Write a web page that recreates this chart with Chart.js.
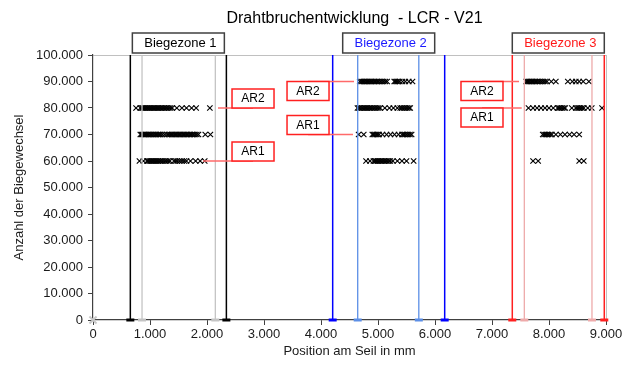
<!DOCTYPE html>
<html>
<head>
<meta charset="utf-8">
<script src="https://cdn.jsdelivr.net/npm/chart.js@4.4.1/dist/chart.umd.min.js"></script>
<style>
body{margin:0;background:#fff;}
</style>
</head>
<body>
<canvas id="chart" width="632" height="365"></canvas>
<script>

const chartTitle = "Drahtbruchentwicklung  - LCR - V21";
const xTitle = "Position am Seil in mm";
const yTitle = "Anzahl der Biegewechsel";

// Biegezonen: outer and inner limits (mm)
const zoneNames = ["Biegezone 1", "Biegezone 2", "Biegezone 3"];
const zoneTextColors = ["#000000", "#1a1aff", "#ff1a1a"];
const zoneOuter = [[655, 2340], [4205, 6170], [7356, 8970]];
const zoneInner = [[860, 2146], [4644, 5716], [7567, 8754]];
const outerColors = ["#000000", "#0000ff", "#ff2020"];
const innerColors = ["#c4c4c4", "#5b8ee6", "#eeaaaa"];

// break positions per load level (Biegewechsel)
const levels = [60000, 70000, 80000, 90000];

const breaks60 = [
    815, 885, 945, 965, 990, 1010, 1030, 1055, 1075, 1100, 1120, 1145, 1170, 1195, 1225, 1260, 1290, 1320, 1350,
    1420, 1450, 1480, 1520, 1560, 1600, 1640, 1710, 1800, 1880, 1960,
    4790, 4860, 4920, 4945, 4965, 4990, 5010, 5035, 5060, 5085, 5110, 5135, 5160, 5190, 5215, 5260, 5340, 5420, 5500, 5625,
    7720, 7810, 8530, 8610
];
const breaks70 = [
    830, 850, 870, 895, 915, 935, 960, 980, 1005, 1025, 1050, 1070, 1095, 1115, 1140, 1165, 1190, 1220, 1260, 1300,
    1330, 1355, 1380, 1400, 1425, 1450, 1470, 1495, 1520, 1540, 1565, 1590, 1610, 1635, 1660, 1685, 1710, 1735, 1760,
    1790, 1820, 1850, 1970, 2060,
    4660, 4750, 4900, 4920, 4945, 4970, 4995, 5020, 5080, 5150, 5220, 5290, 5360, 5420, 5445, 5470, 5500, 5530, 5560, 5590,
    7890, 7915, 7940, 7965, 7990, 8020, 8050, 8120, 8200, 8280, 8360, 8440, 8530
];
const breaks80 = [
    755, 830, 855, 875, 900, 920, 945, 965, 990, 1010, 1035, 1060, 1080, 1105, 1130, 1150, 1175, 1200, 1225, 1250,
    1275, 1300, 1330, 1360, 1390, 1470, 1560, 1640, 1730, 1810, 2050,
    4640, 4665, 4690, 4720, 4745, 4770, 4790, 4815, 4840, 4865, 4890, 4920, 4950, 4980, 5010, 5040,
    5120, 5200, 5270, 5340, 5390, 5420, 5450, 5480, 5510, 5540, 5565,
    7640, 7720, 7790, 7860, 7930, 8000, 8075, 8150, 8175, 8200, 8230, 8260, 8285, 8400, 8470, 8500, 8525, 8550,
    8580, 8610, 8680, 8750, 8930
];
const breaks90 = [
    4680, 4705, 4725, 4750, 4770, 4795, 4815, 4840, 4860, 4885, 4910, 4935, 4960, 4985, 5010, 5040, 5070, 5100,
    5130, 5160, 5285, 5305, 5330, 5350, 5380, 5430, 5480, 5540, 5605,
    7600, 7620, 7645, 7665, 7690, 7710, 7735, 7760, 7785, 7810, 7840, 7870, 7900, 7930, 7965, 8040, 8120,
    8330, 8410, 8470, 8530, 8600, 8700
];
const breakRows = [breaks60, breaks70, breaks80, breaks90];

// AR callouts: box left (mm), level, which box edge sits on the level, leader start (mm)
const arText = ["AR2", "AR1", "AR2", "AR1", "AR2", "AR1"];
const arBoxX = [2439, 2439, 3404, 3404, 6456, 6456];
const arLevel = [80000, 60000, 90000, 70000, 90000, 80000];
const arEdge = ["bottom", "bottom", "top", "bottom", "top", "top"];
const arFrom = [2193, 1930, 4579, 4561, 7474, 7521];

const xTicks = [0, 1000, 2000, 3000, 4000, 5000, 6000, 7000, 8000, 9000];
const yTicks = [0, 10000, 20000, 30000, 40000, 50000, 60000, 70000, 80000, 90000, 100000];

const font = "'Liberation Sans', Arial, sans-serif";

function dots(v){
    return String(v).replace(/\B(?=(\d{3})+(?!\d))/g, ".");
}

let datasets = [];

// vertical zone lines with a small marker at the bottom
function zoneLine(pos, color, width){
    datasets.push({
        type: "line",
        data: [{x: pos, y: 0}, {x: pos, y: 100000}],
        borderColor: color,
        borderWidth: width,
        pointStyle: "line",
        pointRadius: [4, 0],
        pointBorderWidth: 3,
        pointBorderColor: color,
        clip: false
    });
}

zoneOuter.forEach((z, i) => {
    zoneLine(z[0], outerColors[i], 1.5);
    zoneLine(z[1], outerColors[i], 1.5);
});
zoneInner.forEach((z, i) => {
    zoneLine(z[0], innerColors[i], 1.3);
    zoneLine(z[1], innerColors[i], 1.3);
});

breakRows.forEach((row, i) => {
    datasets.push({
        type: "scatter",
        data: row.map(v => ({x: v, y: levels[i]})),
        pointStyle: "crossRot",
        pointRadius: 3.8,
        pointBorderWidth: 1.1,
        borderColor: "#000",
        backgroundColor: "#000"
    });
});

// grey origin marker
datasets.push({
    type: "scatter",
    data: [{x: 0, y: 0}],
    pointStyle: "crossRot",
    pointRadius: 5,
    pointBorderWidth: 2,
    borderColor: "#c8c8c8",
    clip: false
});

const overlay = {
    id: "overlay",
    afterDraw(chart){
        const ctx = chart.ctx;
        const sx = chart.scales.x;
        const sy = chart.scales.y;
        const area = chart.chartArea;

        ctx.save();

        ctx.fillStyle = "#000";
        ctx.font = "16px " + font;
        ctx.textAlign = "center";
        ctx.textBaseline = "middle";
        ctx.fillText(chartTitle, (area.left + area.right) / 2 + 5, 19);

        // zone headers
        ctx.font = "13px " + font;
        zoneNames.forEach((name, i) => {
            let cx = sx.getPixelForValue((zoneOuter[i][0] + zoneOuter[i][1]) / 2);
            let w = 92;
            ctx.fillStyle = "#fff";
            ctx.fillRect(cx - w / 2, area.top - 22, w, 20);
            ctx.strokeStyle = "#404040";
            ctx.lineWidth = 1.5;
            ctx.strokeRect(cx - w / 2, area.top - 22, w, 20);
            ctx.fillStyle = zoneTextColors[i];
            ctx.fillText(name, cx + 2, area.top - 11.5);
        });

        // AR callouts
        ctx.font = "12px " + font;
        arText.forEach((t, i) => {
            let left = sx.getPixelForValue(arBoxX[i]);
            let ly = sy.getPixelForValue(arLevel[i]);
            let w = 42, h = 19;
            let top = arEdge[i] === "top" ? ly : ly - h;

            ctx.strokeStyle = "#ff6a6a";
            ctx.lineWidth = 1.5;
            ctx.beginPath();
            ctx.moveTo(sx.getPixelForValue(arFrom[i]), ly);
            ctx.lineTo(left + w / 2, ly);
            ctx.stroke();

            ctx.fillStyle = "#fff";
            ctx.fillRect(left, top, w, h);
            ctx.strokeStyle = "#ff2020";
            ctx.strokeRect(left, top, w, h);
            ctx.fillStyle = "#000";
            ctx.fillText(t, left + w / 2, top + h / 2 + 0.5);
        });

        ctx.restore();
    }
};

new Chart(document.getElementById("chart"), {
    type: "scatter",
    data: {datasets: datasets},
    options: {
        responsive: false,
        animation: false,
        layout: {padding: {top: 55, right: 26, left: 0, bottom: 0}},
        plugins: {
            legend: {display: false},
            tooltip: {enabled: false}
        },
        scales: {
            x: {
                type: "linear",
                min: 0,
                max: 9000,
                afterBuildTicks: s => { s.ticks = xTicks.map(v => ({value: v})); },
                afterFit: s => { s.height = 45; },
                ticks: {
                    color: "#1a1a1a",
                    font: {family: font, size: 13},
                    padding: 2,
                    maxRotation: 0,
                    callback: v => dots(v)
                },
                grid: {
                    color: c => c.tick && c.tick.value === 9000 ? "#c0c0c0" : "rgba(0,0,0,0)",
                    tickColor: "#404040",
                    tickLength: 5
                },
                border: {color: "#404040", width: 1.2},
                title: {
                    display: true,
                    text: xTitle,
                    color: "#1a1a1a",
                    font: {family: font, size: 13},
                    padding: {top: 0, bottom: 6}
                }
            },
            y: {
                type: "linear",
                min: 0,
                max: 100000,
                afterBuildTicks: s => { s.ticks = yTicks.map(v => ({value: v})); },
                afterFit: s => { s.width = 93; },
                ticks: {
                    color: "#1a1a1a",
                    font: {family: font, size: 13},
                    padding: 5,
                    callback: v => dots(v)
                },
                grid: {
                    color: c => c.tick && c.tick.value === 100000 ? "#c0c0c0" : "rgba(0,0,0,0)",
                    tickColor: "#404040",
                    tickLength: 5
                },
                border: {color: "#404040", width: 1.2},
                title: {
                    display: true,
                    text: yTitle,
                    color: "#1a1a1a",
                    font: {family: font, size: 13},
                    padding: {top: 12, bottom: 0}
                }
            }
        }
    },
    plugins: [overlay]
});

</script>
</body>
</html>
